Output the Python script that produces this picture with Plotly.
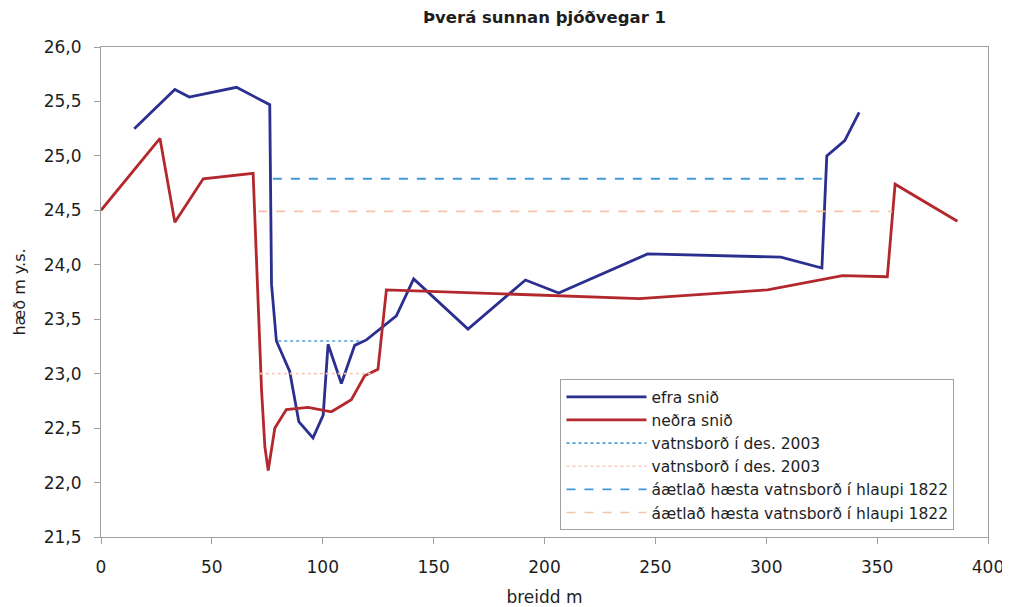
import plotly.graph_objects as go

# ---- data ----
efra_x = [15.0, 33.3, 39.8, 61.1, 76.1, 76.9, 79.1, 85.1, 89.2, 95.6, 100.2, 102.4, 108.4,
          114.4, 119.7, 133.2, 141.0, 165.5, 191.4, 206.4, 246.5, 306.6, 325.1, 327.3, 335.4, 341.9]
efra_y = [25.25, 25.61, 25.54, 25.63, 25.47, 23.82, 23.30, 23.02, 22.56, 22.41, 22.62, 23.27, 22.91,
          23.26, 23.31, 23.53, 23.87, 23.41, 23.86, 23.74, 24.10, 24.07, 23.97, 25.00, 25.14, 25.40]

nedra_x = [0.0, 26.6, 33.3, 46.1, 68.6, 69.6, 70.9, 72.4, 73.9, 75.4, 78.4, 83.6, 93.4, 103.9,
           112.9, 118.9, 124.9, 128.7, 242.8, 300.6, 334.4, 354.6, 358.1, 386.2]
nedra_y = [24.50, 25.16, 24.39, 24.79, 24.84, 24.30, 23.56, 22.85, 22.33, 22.11, 22.50, 22.67, 22.69, 22.65,
           22.76, 22.98, 23.04, 23.77, 23.69, 23.77, 23.90, 23.89, 24.74, 24.40]

des2003_efra_x = [79.9, 116.7]
des2003_efra_y = [23.30, 23.30]
des2003_nedra_x = [71.6, 123.4]
des2003_nedra_y = [23.00, 23.00]

hlaup1822_efra_x = [77.5, 326.9]
hlaup1822_efra_y = [24.79, 24.79]
hlaup1822_nedra_x = [70.9, 356.8]
hlaup1822_nedra_y = [24.49, 24.49]

names = ["efra snið", "neðra snið", "vatnsborð í des. 2003", "vatnsborð í des. 2003",
         "áætlað hæsta vatnsborð í hlaupi 1822", "áætlað hæsta vatnsborð í hlaupi 1822"]

x_ticks = [0, 50, 100, 150, 200, 250, 300, 350, 400]
y_ticks = [21.5, 22.0, 22.5, 23.0, 23.5, 24.0, 24.5, 25.0, 25.5, 26.0]

FONT = "DejaVu Sans, Liberation Sans, Arial, sans-serif"
TXT = "#1e1e1e"

fig = go.Figure()
fig.add_trace(go.Scatter(x=efra_x, y=efra_y, mode="lines", name=names[0],
                         line=dict(color="#2b2f8f", width=2.8)))
fig.add_trace(go.Scatter(x=nedra_x, y=nedra_y, mode="lines", name=names[1],
                         line=dict(color="#b3282d", width=2.8)))
fig.add_trace(go.Scatter(x=des2003_efra_x, y=des2003_efra_y, mode="lines", name=names[2],
                         line=dict(color="#4a9fd8", width=1.6, dash="dot")))
fig.add_trace(go.Scatter(x=des2003_nedra_x, y=des2003_nedra_y, mode="lines", name=names[3],
                         line=dict(color="#f6c9b8", width=1.6, dash="dot")))
fig.add_trace(go.Scatter(x=hlaup1822_efra_x, y=hlaup1822_efra_y, mode="lines", name=names[4],
                         line=dict(color="#3d9ad6", width=1.8, dash="dash")))
fig.add_trace(go.Scatter(x=hlaup1822_nedra_x, y=hlaup1822_nedra_y, mode="lines", name=names[5],
                         line=dict(color="#f5c3a6", width=1.6, dash="dash")))

fig.update_layout(
    width=1002, height=599,
    margin=dict(l=93, r=22, t=39, b=70),
    paper_bgcolor="white", plot_bgcolor="white",
    separators=", ",
    font=dict(family=FONT, size=16, color=TXT),
    title=dict(text="<b>Þverá sunnan þjóðvegar 1</b>", x=0.5, xref="paper", xanchor="center",
               y=1 - 9 / 599, yref="container", yanchor="middle",
               font=dict(family=FONT, size=16.5, color=TXT)),
    showlegend=True,
    legend=dict(x=0.518, y=0.322, xanchor="left", yanchor="top",
                bordercolor="#a0a0a0", borderwidth=1, bgcolor="white",
                font=dict(family=FONT, size=15.5, color=TXT),
                tracegroupgap=0, itemwidth=80),
)
fig.update_xaxes(range=[0, 400], tickvals=x_ticks, ticktext=[str(v) for v in x_ticks],
                 automargin=False,
                 showgrid=False, zeroline=False, showline=True, linecolor="#a0a0a0", linewidth=1,
                 mirror=True, ticks="outside", ticklen=6, tickcolor="#a0a0a0", ticklabelstandoff=9,
                 tickfont=dict(size=17), title=dict(text="breidd m", font=dict(size=17), standoff=16))
fig.update_yaxes(range=[21.5, 26.0], tickvals=y_ticks, tickformat=".1f",
                 automargin=False,
                 showgrid=False, zeroline=False, showline=True, linecolor="#a0a0a0", linewidth=1,
                 mirror=True, ticks="outside", ticklen=6, tickcolor="#a0a0a0", ticklabelstandoff=9,
                 tickfont=dict(size=17), title=dict(text="hæð m y.s.", font=dict(size=16), standoff=14))

fig.write_html("out.html")
